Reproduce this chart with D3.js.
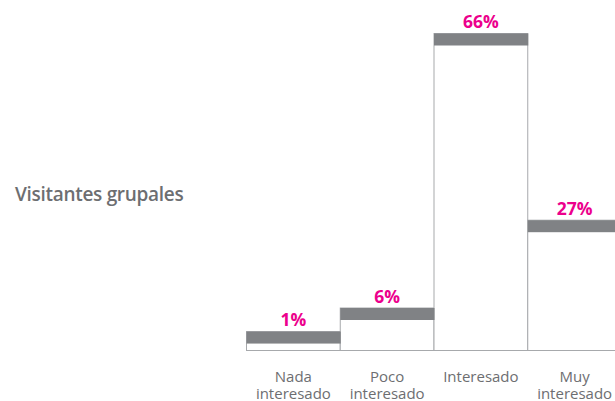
<!DOCTYPE html>
<html>
<head>
<meta charset="utf-8">
<script src="https://cdn.jsdelivr.net/npm/d3@7"></script>
<style>
  body { margin: 0; background: #fff; }
  svg { display: block; }
</style>
</head>
<body>
<svg id="svg1" width="615" height="401"></svg>
<script>
// data
var categories = ['Nada|interesado', 'Poco|interesado', 'Interesado', 'Muy|interesado'];
var values = [1.5, 6.6, 66, 25.6];          // bar heights (estimated)
var valueLabels = ['1%', '6%', '66%', '27%'];
var title = 'Visitantes grupales';

var width = 615, height = 401;
var baseY = 350.5;
var bandH = 12;

var svg = d3.select('#svg1');

var x = d3.scaleBand()
    .domain(categories)
    .range([246.5, 621.5])
    .padding(0);

var y = d3.scaleLinear()
    .domain([0, 66])
    .range([baseY, 45.5]);

// title
svg.append('text')
    .attr('x', 15)
    .attr('y', 201)
    .attr('font-family', 'Open Sans')
    .attr('font-weight', 600)
    .attr('font-size', 19)
    .attr('letter-spacing', -0.3)
    .attr('fill', '#6d6e71')
    .text(title);

var g = svg.append('g');

// bar outlines
g.selectAll('rect.bar')
    .data(values)
    .enter()
    .append('rect')
    .attr('class', 'bar')
    .attr('x', function(d, i) { return x(categories[i]); })
    .attr('y', function(d) { return y(d) - bandH; })
    .attr('width', x.bandwidth())
    .attr('height', function(d) { return baseY - y(d) + bandH; })
    .attr('fill', '#fff')
    .attr('stroke', '#a7a9ac')
    .attr('stroke-width', 1);

// gray band on top of each bar
g.selectAll('rect.band')
    .data(values)
    .enter()
    .append('rect')
    .attr('class', 'band')
    .attr('x', function(d, i) { return x(categories[i]); })
    .attr('y', function(d) { return y(d) - bandH; })
    .attr('width', x.bandwidth() + 0.5)
    .attr('height', bandH)
    .attr('fill', '#808285');

// baseline
g.append('line')
    .attr('x1', 246).attr('x2', width)
    .attr('y1', baseY).attr('y2', baseY)
    .attr('stroke', '#a7a9ac')
    .attr('stroke-width', 1);

// value labels
g.selectAll('text.val')
    .data(valueLabels)
    .enter()
    .append('text')
    .attr('class', 'val')
    .attr('x', function(d, i) { return x(categories[i]) + x.bandwidth() / 2; })
    .attr('y', function(d, i) { return y(values[i]) - bandH - 5.5; })
    .attr('text-anchor', 'middle')
    .attr('font-family', 'Open Sans')
    .attr('font-weight', 700)
    .attr('font-size', 17.5)
    .attr('fill', '#ec008c')
    .text(function(d) { return d; });

// category labels, one text per line
var catLines = [];
categories.forEach(function(c) {
  c.split('|').forEach(function(line, i) {
    catLines.push({cat: c, line: line, row: i});
  });
});

g.selectAll('text.cat')
    .data(catLines)
    .enter()
    .append('text')
    .attr('class', 'cat')
    .attr('x', function(d) { return x(d.cat) + x.bandwidth() / 2; })
    .attr('y', function(d) { return 382 + d.row * 16.5; })
    .attr('text-anchor', 'middle')
    .attr('font-family', 'Open Sans')
    .attr('font-size', 15)
    .attr('fill', '#6d6e71')
    .text(function(d) { return d.line; });
</script>
</body>
</html>
